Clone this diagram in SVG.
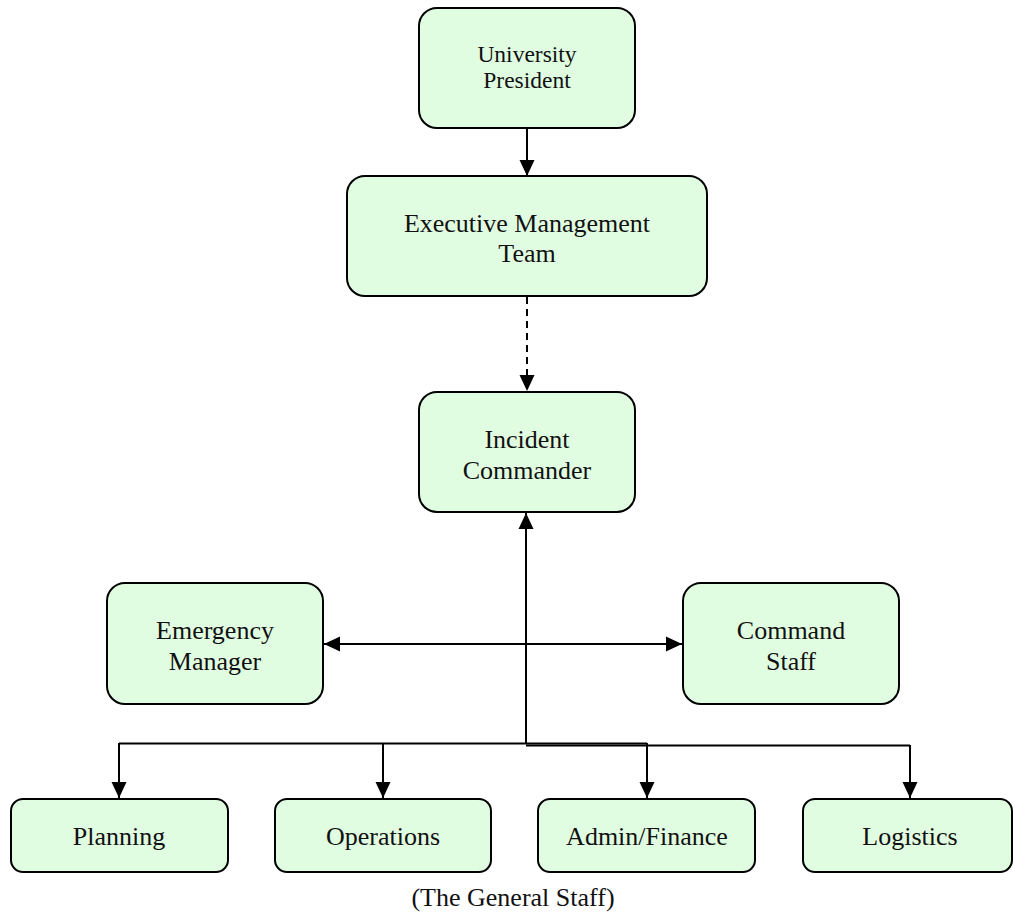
<svg xmlns="http://www.w3.org/2000/svg" width="1013" height="915" viewBox="0 0 1013 915">
<defs>
<style>
.box{fill:#e1fde1;stroke:#000;stroke-width:2}
.t{font-family:"Liberation Serif","Times New Roman",serif;font-size:26px;fill:#111;text-anchor:middle}
.ts{font-size:23.5px}
.c{fill:none;stroke:#000;stroke-width:2}
.d{stroke-dasharray:7,5}
</style>
<marker id="ah" viewBox="0 0 16 16" refX="16" refY="8" markerWidth="16" markerHeight="16" markerUnits="userSpaceOnUse" orient="auto-start-reverse">
<path d="M0,0.5 L16,8 L0,15.5 Z" fill="#000"/>
</marker>
</defs>
<rect width="1013" height="915" fill="#fff"/>
<g id="connectors">
<line class="c" x1="527" y1="128" x2="527" y2="176" marker-end="url(#ah)"/>
<line class="c d" x1="527" y1="297" x2="527" y2="391" marker-end="url(#ah)"/>
<line class="c" x1="526" y1="744" x2="526" y2="513" marker-end="url(#ah)"/>
<line class="c" x1="324" y1="644" x2="682" y2="644" marker-start="url(#ah)" marker-end="url(#ah)"/>
<path class="c" d="M119,743.5 H647"/>
<path class="c" d="M526,745.5 H910"/>
<line class="c" x1="119" y1="743" x2="119" y2="798" marker-end="url(#ah)"/>
<line class="c" x1="383" y1="743" x2="383" y2="798" marker-end="url(#ah)"/>
<line class="c" x1="647" y1="743" x2="647" y2="798" marker-end="url(#ah)"/>
<line class="c" x1="910" y1="745" x2="910" y2="798" marker-end="url(#ah)"/>
</g>
<g id="president">
<rect class="box" x="419" y="8" width="216" height="120" rx="18"/>
<text class="t ts" x="527" y="62">University</text>
<text class="t ts" x="527" y="88">President</text>
</g>
<g id="emt">
<rect class="box" x="347" y="176" width="360" height="120" rx="18"/>
<text class="t" x="527" y="232">Executive Management</text>
<text class="t" x="527" y="262">Team</text>
</g>
<g id="ic">
<rect class="box" x="419" y="392" width="216" height="120" rx="18"/>
<text class="t" x="527" y="448">Incident</text>
<text class="t" x="527" y="479">Commander</text>
</g>
<g id="em">
<rect class="box" x="107" y="583" width="216" height="121" rx="18"/>
<text class="t" x="215" y="639">Emergency</text>
<text class="t" x="215" y="670">Manager</text>
</g>
<g id="cs">
<rect class="box" x="683" y="583" width="216" height="121" rx="18"/>
<text class="t" x="791" y="639">Command</text>
<text class="t" x="791" y="670">Staff</text>
</g>
<g id="planning">
<rect class="box" x="11" y="799" width="217" height="73" rx="12"/>
<text class="t" x="119" y="845">Planning</text>
</g>
<g id="operations">
<rect class="box" x="275" y="799" width="216" height="73" rx="12"/>
<text class="t" x="383" y="845">Operations</text>
</g>
<g id="admin">
<rect class="box" x="538" y="799" width="217" height="73" rx="12"/>
<text class="t" x="647" y="845">Admin/Finance</text>
</g>
<g id="logistics">
<rect class="box" x="803" y="799" width="209" height="73" rx="12"/>
<text class="t" x="910" y="845">Logistics</text>
</g>
<text id="general-staff" class="t" x="513" y="906">(The General Staff)</text>
</svg>
